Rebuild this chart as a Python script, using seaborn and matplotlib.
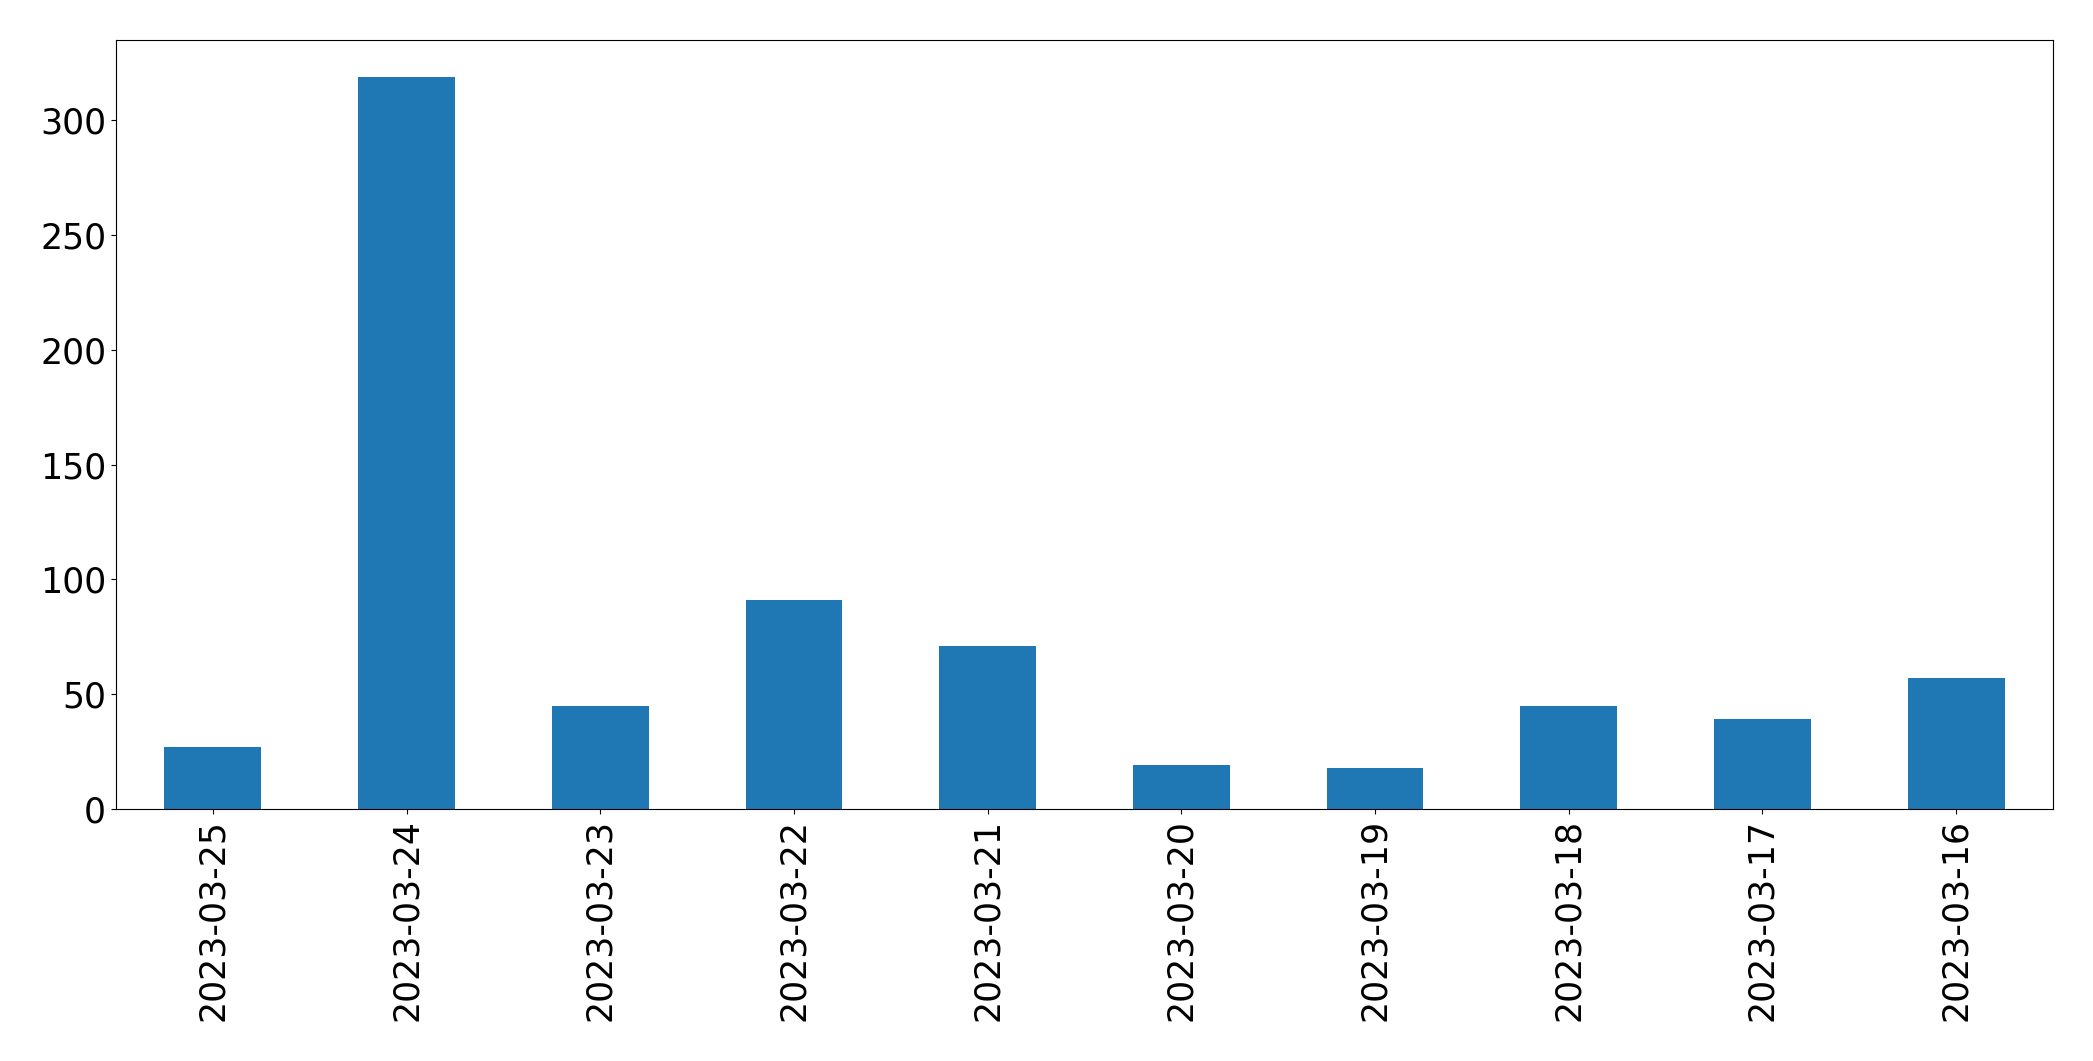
import matplotlib
matplotlib.use("Agg")
import matplotlib.pyplot as plt
import seaborn as sns
import pandas as pd

# Werte pro Tag (absteigend nach Datum, wie im Original)
dates = ["2023-03-25", "2023-03-24", "2023-03-23", "2023-03-22", "2023-03-21",
         "2023-03-20", "2023-03-19", "2023-03-18", "2023-03-17", "2023-03-16"]
counts = [27, 319, 45, 91, 71, 19, 18, 45, 39, 57]

df = pd.DataFrame({"date": dates, "count": counts})

fig, ax = plt.subplots(figsize=(20.93, 10.61), dpi=100)
sns.barplot(data=df, x="date", y="count", order=dates, color="#1f77b4",
            saturation=1, width=0.5, ax=ax)

ax.set_xlim(-0.5, len(dates) - 0.5)
ax.set_xlabel("")
ax.set_ylabel("")
ax.tick_params(axis="both", labelsize=25)
ax.tick_params(axis="x", labelrotation=90)
for s in ax.spines.values():
    s.set_edgecolor("black")

fig.subplots_adjust(left=0.0554, right=0.9809, top=0.9623, bottom=0.2375)
fig.savefig("out.png", dpi=100)
